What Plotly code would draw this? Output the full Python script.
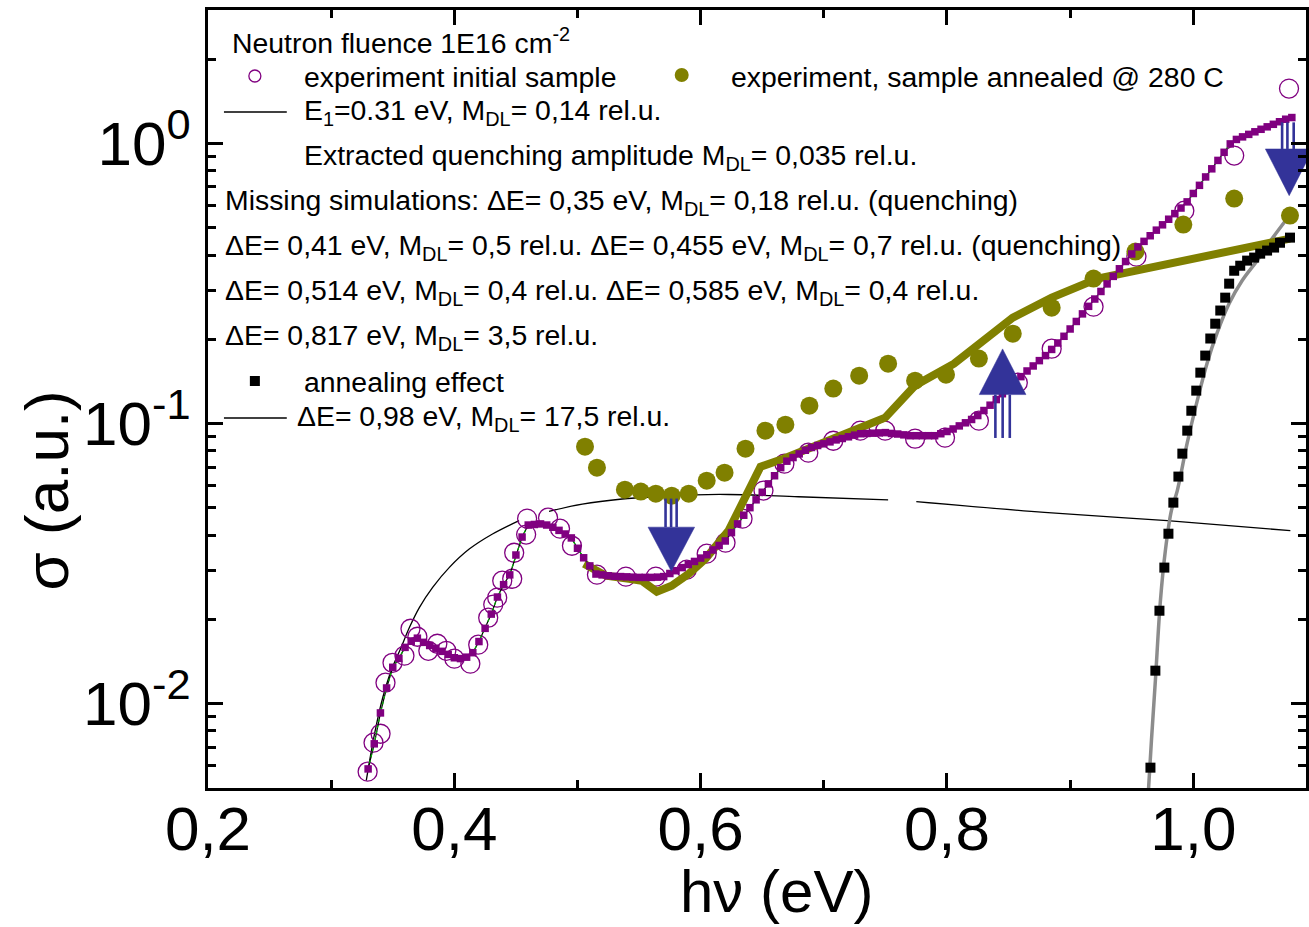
import plotly.graph_objects as go

# ---------------- data ----------------
# experiment, initial sample (open circles)
init_e = [0.3296, 0.3344, 0.3401, 0.3441, 0.3498, 0.3595, 0.3644, 0.3700, 0.3789, 0.3862,
          0.3935, 0.4000, 0.4130, 0.4194, 0.4275, 0.4316, 0.4348, 0.4389, 0.4470, 0.4486,
          0.4583, 0.4591, 0.4761, 0.4858, 0.4955, 0.5158, 0.5393, 0.5636, 0.5887, 0.6049,
          0.6202, 0.6340, 0.6510, 0.6680, 0.6874, 0.7077, 0.7296, 0.7498, 0.7741, 0.7984,
          0.8259, 0.8575, 0.8850, 0.9190, 0.9538, 0.9927, 1.0332, 1.0777]
init_sigma = [0.00572, 0.00726, 0.00781, 0.01189, 0.01400, 0.01484, 0.01852, 0.01734, 0.01545, 0.01637,
              0.01545, 0.01448, 0.01390, 0.01625, 0.02028, 0.02259, 0.02392, 0.02750, 0.02794, 0.03459,
              0.04016, 0.04580, 0.04616, 0.04217, 0.03665, 0.02889, 0.02843, 0.02843, 0.03011, 0.03434,
              0.03758, 0.04580, 0.05768, 0.07197, 0.07877, 0.08690, 0.09441, 0.09441, 0.08836, 0.08913,
              0.1025, 0.1401, 0.1852, 0.2617, 0.3948, 0.5763, 0.9061, 1.572]

# experiment, sample annealed @ 280 C (filled circles)
ann_e = [0.5061, 0.5158, 0.5385, 0.5514, 0.5636, 0.5765, 0.5903, 0.6049, 0.6194, 0.6364,
         0.6526, 0.6688, 0.6883, 0.7077, 0.7287, 0.7522, 0.7741, 0.7992, 0.8259, 0.8534,
         0.8850, 0.9190, 0.9530, 0.9919, 1.0332, 1.0785]
ann_sigma = [0.08279, 0.06966, 0.05810, 0.05719, 0.05623, 0.05532, 0.05623, 0.06256, 0.06683, 0.08143,
             0.09441, 0.09915, 0.1159, 0.1334, 0.1484, 0.1638, 0.1424, 0.1496, 0.1707, 0.2096,
             0.2596, 0.3296, 0.4115, 0.5140, 0.6363, 0.5533]

# simulation of the annealed sample (thick olive line)
ann_sim_e = [0.5053, 0.5231, 0.5417, 0.5522, 0.5644, 0.5765, 0.5903, 0.6040, 0.6227, 0.6486,
             0.6672, 0.7053, 0.7498, 0.7741, 0.8057, 0.8534, 0.8850, 0.9223, 1.0785]
ann_sim_sigma = [0.03162, 0.02864, 0.02794, 0.02750, 0.02512, 0.02637, 0.02911, 0.03296, 0.04150, 0.07021,
                 0.07499, 0.08690, 0.1050, 0.1368, 0.1638, 0.2392, 0.2818, 0.3296, 0.4578]

# simulation of the initial sample (purple squares), energy grid 0.330 ... 1.080 eV
SIM_E0 = 0.330
SIM_STEP = 0.005
sim_sigma = [
    0.00585, 0.00719, 0.00927, 0.01138, 0.01349, 0.01452, 0.01589, 0.01671, 0.01714, 0.01656,
    0.01614, 0.01578, 0.01538, 0.01500, 0.01459, 0.01449, 0.01466, 0.01521, 0.01667, 0.01858,
    0.02089, 0.02404, 0.02661, 0.02884, 0.03396, 0.03936, 0.04345, 0.04365, 0.04385, 0.04345,
    0.04266, 0.04159, 0.04036, 0.03908, 0.03589, 0.03319, 0.03105, 0.02904, 0.02884, 0.02864,
    0.02851, 0.02844, 0.02838, 0.02831, 0.02825, 0.02825, 0.02825, 0.02831, 0.02844, 0.02917,
    0.02985, 0.03062, 0.03141, 0.03221, 0.03311, 0.03404, 0.03540, 0.03673, 0.03811, 0.04083,
    0.04385, 0.04710, 0.05012, 0.05346, 0.05689, 0.06095, 0.06516, 0.06966, 0.07345, 0.07568,
    0.07798, 0.08035, 0.08222, 0.08356, 0.08472, 0.08610, 0.08750, 0.08851, 0.08974, 0.09099,
    0.09204, 0.09226, 0.09247, 0.09268, 0.09290, 0.09226, 0.09183, 0.09120, 0.09057, 0.09057,
    0.09057, 0.09057, 0.09057, 0.09204, 0.09376, 0.09572, 0.09817, 0.1007, 0.1035, 0.1069,
    0.1114, 0.1164, 0.1219, 0.1279, 0.1343, 0.1406, 0.1472, 0.1542, 0.1607, 0.1679,
    0.1750, 0.1841, 0.1941, 0.2051, 0.2178, 0.2317, 0.2466, 0.2624, 0.2786, 0.2965,
    0.3155, 0.3357, 0.3573, 0.3793, 0.4036, 0.4276, 0.4477, 0.4688, 0.4909, 0.5129,
    0.5370, 0.5623, 0.5888, 0.6194, 0.6637, 0.7096, 0.7603, 0.8128, 0.8710, 0.9311,
    0.9977, 1.035, 1.057, 1.079, 1.102, 1.125, 1.148, 1.172, 1.197, 1.222, 1.239]
sim_e = [round(SIM_E0 + SIM_STEP * i, 3) for i in range(len(sim_sigma))]

# E1 = 0.31 eV level (thin black curve); None marks where the trace is interrupted
e1_e = [0.3285, 0.3352, 0.3419, 0.3487, 0.3568, 0.3636, 0.3717, 0.3824, 0.3960, 0.4121,
        0.4310, 0.4526, None, 0.4769, 0.5039, 0.5363, 0.5687, 0.5957, 0.6227, 0.6794, 0.7522,
        None, 0.7751, 0.8791, 0.9789, 1.0788]
e1_sigma = [0.00531, 0.00780, 0.01052, 0.01312, 0.01589, 0.01874, 0.02208, 0.02603, 0.03068, 0.03565,
            0.04036, 0.04506, None, 0.04863, 0.05162, 0.05382, 0.05495, 0.05571, 0.05585, 0.05483, 0.05340,
            None, 0.05265, 0.04821, 0.04503, 0.04150]

# annealing effect (black squares)
eff_e = [0.9652, 0.9692, 0.9725, 0.9765, 0.9798, 0.9838, 0.9879, 0.9911, 0.9951, 0.9984,
         1.0024, 1.0057, 1.0097, 1.0138, 1.0178, 1.0219, 1.0259, 1.0291, 1.0332, 1.0381,
         1.0437, 1.0494, 1.0543, 1.0599, 1.0656, 1.0704, 1.0785]
eff_sigma = [0.00591, 0.01312, 0.02148, 0.03062, 0.04046, 0.05224, 0.06471, 0.07816, 0.09441, 0.1112,
             0.1312, 0.1521, 0.1750, 0.2014, 0.2275, 0.2535, 0.2818, 0.3162, 0.3516, 0.3664,
             0.3821, 0.3917, 0.4046, 0.4150, 0.4254, 0.4426, 0.4616]

# dE = 0.98 eV level (grey curve)
lvl98_e = [0.9636, 0.9660, 0.9692, 0.9733, 0.9773, 0.9822, 0.9870, 0.9951, 1.0032, 1.0113,
           1.0194, 1.0291, 1.0397, 1.0518, 1.0640, 1.0785]
lvl98_sigma = [0.00493, 0.00738, 0.01208, 0.02333, 0.03516, 0.04887, 0.05768, 0.0855, 0.1208, 0.1651,
               0.2113, 0.2685, 0.3243, 0.3821, 0.4578, 0.5572]

# arrows: shaft energies, shaft ends, head edges, head base and tip
arrows = [
    dict(shaft=[0.5715, 0.5760, 0.5805], s0=0.0540, s1=0.0427, hl=0.5573, hr=0.5951, base=0.0427, tip=0.02969),
    dict(shaft=[0.8393, 0.8452, 0.8510], s0=0.0889, s1=0.1270, hl=0.8262, hr=0.8641, base=0.1270, tip=0.1849),
    dict(shaft=[1.0721, 1.0764, 1.0815], s0=1.191, s1=0.957, hl=1.0585, hr=1.0972, base=0.957, tip=0.652),
]

x_ticks = [0.2, 0.4, 0.6, 0.8, 1.0]
x_ticktext = ["0,2", "0,4", "0,6", "0,8", "1,0"]
y_ticks = [0.01, 0.1, 1]
y_ticktext = ["10<sup>-2</sup>", "10<sup>-1</sup>", "10<sup>0</sup>"]

# ---------------- style ----------------
FONT = "Liberation Sans, Arial, sans-serif"
PURPLE = "#800080"
OLIVE = "#808000"
BLUE = "#333399"

fig = go.Figure()

fig.add_trace(go.Scatter(x=e1_e, y=e1_sigma, mode="lines", line=dict(color="black", width=1.3, shape="spline"),
                         connectgaps=False, hoverinfo="skip"))
fig.add_trace(go.Scatter(x=lvl98_e, y=lvl98_sigma, mode="lines", line=dict(color="#8c8c8c", width=3.5, shape="spline"),
                         hoverinfo="skip"))
fig.add_trace(go.Scatter(x=init_e, y=init_sigma, mode="markers",
                         marker=dict(symbol="circle-open", size=19, color=PURPLE, line=dict(color=PURPLE, width=1.3))))
fig.add_trace(go.Scatter(x=ann_sim_e, y=ann_sim_sigma, mode="lines", line=dict(color=OLIVE, width=8)))
fig.add_trace(go.Scatter(x=ann_e, y=ann_sigma, mode="markers",
                         marker=dict(symbol="circle", size=18, color=OLIVE, line=dict(width=0))))
fig.add_trace(go.Scatter(x=sim_e, y=sim_sigma, mode="lines", line=dict(color="black", width=1.2)))
fig.add_trace(go.Scatter(x=sim_e, y=sim_sigma, mode="lines", line=dict(color="#00b000", width=1.2, dash="dot")))
fig.add_trace(go.Scatter(x=sim_e, y=sim_sigma, mode="markers",
                         marker=dict(symbol="square", size=7.5, color=PURPLE, line=dict(width=0))))
fig.add_trace(go.Scatter(x=eff_e, y=eff_sigma, mode="markers",
                         marker=dict(symbol="square", size=10, color="black", line=dict(width=0))))

for a in arrows:
    sx, sy = [], []
    for e in a["shaft"]:
        sx += [e, e, None]
        sy += [a["s0"], a["s1"], None]
    fig.add_trace(go.Scatter(x=sx, y=sy, mode="lines", line=dict(color=BLUE, width=2.6)))
    mid = (a["hl"] + a["hr"]) / 2
    fig.add_trace(go.Scatter(x=[a["hl"], a["hr"], mid, a["hl"]], y=[a["base"], a["base"], a["tip"], a["base"]],
                             mode="lines", fill="toself", fillcolor=BLUE, line=dict(color=BLUE, width=0.5)))

# ---------------- legend block (text lines with sample marks) ----------------
L, R, T, B = 208, 1309, 10, 788


def px(xp):
    return (xp - L) / (R - L)


def py(yp):
    return (B - yp) / (B - T)


TXT = 28.4
legend_lines = [
    (231, 41, "Neutron fluence 1E16 cm<sup>-2</sup>"),
    (303, 77, "experiment initial sample"),
    (731, 77, "experiment, sample annealed @ 280 C"),
    (303, 112, "E<sub>1</sub>=0.31 eV, M<sub>DL</sub>= 0,14 rel.u."),
    (303, 157, "Extracted quenching amplitude M<sub>DL</sub>= 0,035 rel.u."),
    (224, 202, "Missing simulations: \u0394E= 0,35 eV, M<sub>DL</sub>= 0,18 rel.u. (quenching)"),
    (224, 247, "\u0394E= 0,41 eV, M<sub>DL</sub>= 0,5 rel.u. \u0394E= 0,455 eV, M<sub>DL</sub>= 0,7 rel.u. (quenching)"),
    (224, 292, "\u0394E= 0,514 eV, M<sub>DL</sub>= 0,4 rel.u. \u0394E= 0,585 eV, M<sub>DL</sub>= 0,4 rel.u."),
    (224, 337, "\u0394E= 0,817 eV, M<sub>DL</sub>= 3,5 rel.u."),
    (303, 382, "annealing effect"),
    (296, 418, "\u0394E= 0,98 eV, M<sub>DL</sub>= 17,5 rel.u."),
]
annotations = []
for xp, yp, t in legend_lines:
    annotations.append(dict(x=px(xp), y=py(yp), xref="paper", yref="paper", text=t, showarrow=False,
                            xanchor="left", yanchor="middle", font=dict(family=FONT, size=TXT, color="black"),
                            borderpad=0))

# axis titles
annotations.append(dict(x=px(778), y=py(891), xref="paper", yref="paper", text="h\u03bd (eV)", showarrow=False,
                        xanchor="center", yanchor="middle", font=dict(family=FONT, size=60, color="black"),
                        borderpad=0))
annotations.append(dict(x=px(46), y=py(490), xref="paper", yref="paper", text="\u03c3 (a.u.)", showarrow=False,
                        textangle=-90, xanchor="center", yanchor="middle",
                        font=dict(family=FONT, size=62, color="black")))

shapes = [
    dict(type="circle", xref="paper", yref="paper", xsizemode="pixel", ysizemode="pixel",
         xanchor=px(255), yanchor=py(76), x0=-6, x1=6, y0=-6, y1=6, line=dict(color=PURPLE, width=1.3)),
    dict(type="circle", xref="paper", yref="paper", xsizemode="pixel", ysizemode="pixel",
         xanchor=px(683), yanchor=py(75), x0=-7, x1=7, y0=-7, y1=7, line=dict(width=0), fillcolor=OLIVE),
    dict(type="line", xref="paper", yref="paper", x0=px(224), x1=px(287), y0=py(112), y1=py(112),
         line=dict(color="black", width=1.3)),
    dict(type="rect", xref="paper", yref="paper", xsizemode="pixel", ysizemode="pixel",
         xanchor=px(255), yanchor=py(381), x0=-5, x1=5, y0=-5, y1=5, line=dict(width=0), fillcolor="black"),
    dict(type="line", xref="paper", yref="paper", x0=px(224), x1=px(287), y0=py(418), y1=py(418),
         line=dict(color="black", width=1.3)),
]

fig.update_layout(
    width=1309, height=927,
    margin=dict(l=L, r=1309 - R, t=T, b=927 - B),
    paper_bgcolor="white", plot_bgcolor="white",
    showlegend=False,
    font=dict(family=FONT, color="black"),
    annotations=annotations,
    shapes=shapes,
    xaxis=dict(
        range=[0.2, 0.2 + (R - L) / 1235.0],
        tickmode="array", tickvals=x_ticks, ticktext=x_ticktext,
        ticks="inside", ticklen=15, tickwidth=2.5, tickcolor="black",
        minor=dict(tickvals=[0.3, 0.5, 0.7, 0.9], ticks="inside", ticklen=8, tickwidth=2.5, tickcolor="black"),
        showline=True, linewidth=3, linecolor="black", mirror="ticks",
        showgrid=False, zeroline=False,
        tickfont=dict(family=FONT, size=62),
        ticklabelstandoff=-15,
    ),
    yaxis=dict(
        type="log",
        range=[-2.30103, 0.47712],
        tickmode="array", tickvals=y_ticks, ticktext=y_ticktext,
        ticks="inside", ticklen=15, tickwidth=2.5, tickcolor="black",
        minor=dict(tickvals=[0.006, 0.007, 0.008, 0.009,
                             0.02, 0.03, 0.04, 0.05, 0.06, 0.07, 0.08, 0.09,
                             0.2, 0.3, 0.4, 0.5, 0.6, 0.7, 0.8, 0.9, 2, 3],
                   ticks="inside", ticklen=8, tickwidth=2.5, tickcolor="black"),
        showline=True, linewidth=3, linecolor="black", mirror="ticks",
        showgrid=False, zeroline=False,
        tickfont=dict(family=FONT, size=62),
        ticklabelstandoff=2,
    ),
)

fig.write_html("out.html")
